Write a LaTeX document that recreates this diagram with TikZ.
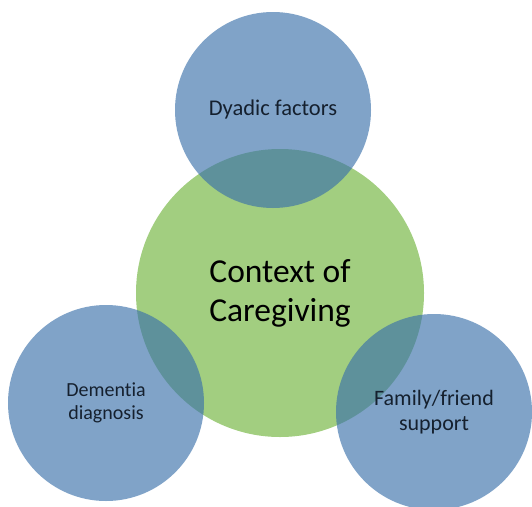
\documentclass[tikz,border=0pt]{standalone}
\usepackage{fontspec}
\setmainfont[Ligatures=NoCommon]{Carlito}
\definecolor{ctxgreen}{HTML}{A2CE80}
\definecolor{factorblue}{HTML}{3970AA}
\definecolor{labeldark}{HTML}{15202E}

\begin{document}
\begin{tikzpicture}[x=1pt, y=-1pt,
  ctx/.style={circle, fill=ctxgreen, inner sep=0pt, minimum size=288pt,
    align=center, font=\fontsize{33.5}{39}\selectfont},
  factor/.style={circle, fill=factorblue, fill opacity=0.645, text opacity=1,
    text=labeldark, inner sep=0pt, minimum size=196pt, align=center,
    font=\fontsize{20}{23.5}\selectfont}]
  \useasboundingbox (0,0) rectangle (532,506);
  \clip (0,0) rectangle (532,506);

  % central circle first, the three factors lie over it
  \node[ctx] (context) at (280,293) {Context of\\Caregiving};

  \node[factor, font=\fontsize{22.5}{26}\selectfont] (dyadic) at (273,110) {\raisebox{2pt}{Dyadic factors}};
  \node[factor] (dementia) at (106,403) {Dementia\\diagnosis};
  \node[factor, font=\fontsize{22}{25}\selectfont] (family) at (434,412) {Family/friend\\support};
\end{tikzpicture}
\end{document}
